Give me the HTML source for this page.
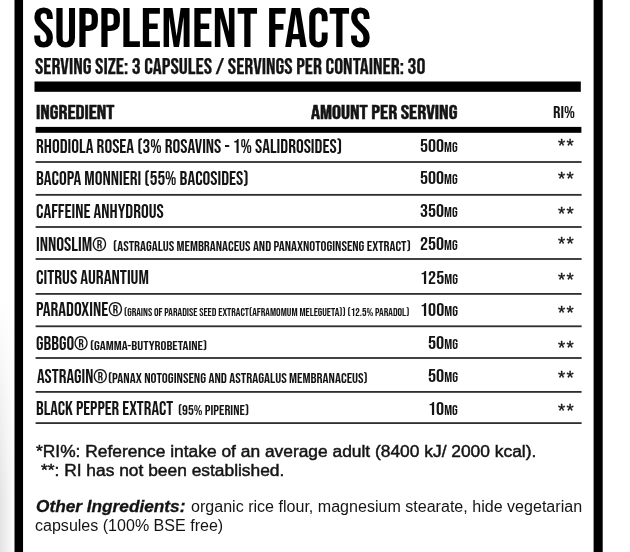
<!DOCTYPE html>
<html><head><meta charset="utf-8">
<style>
html,body{margin:0;padding:0;}
body{width:630px;height:552px;overflow:hidden;background:#fff;position:relative;color:#141414;}
.t{position:absolute;white-space:nowrap;line-height:1;transform-origin:0 0;}
.b{font-family:"Bebas Neue","Oswald","League Gothic","Liberation Sans",sans-serif;}
.a{font-family:"Liberation Sans",Arial,Helvetica,sans-serif;}
.t small{font-size:0.73em;}
</style></head>
<body>
<div style="position:absolute;left:0;top:300px;width:14.5px;height:252px;background:linear-gradient(to right,rgba(0,0,0,0.11),rgba(0,0,0,0.02) 85%,rgba(0,0,0,0));-webkit-mask-image:linear-gradient(to bottom,transparent,#000 80%);"></div>
<svg style="position:absolute;left:0;top:0" width="630" height="552" viewBox="0 0 630 552"><rect x="14.5" y="0" width="8.55" height="552" fill="#000"/><rect x="593.6" y="0" width="9.1" height="552" fill="#000"/><rect x="34.5" y="81.5" width="546.3" height="10.3" fill="#000"/><rect x="35.6" y="126.9" width="545.8" height="5.9" fill="#000"/><rect x="35.6" y="161.10" width="546" height="1.8" fill="#2e2e2e"/><rect x="35.6" y="193.95" width="546" height="1.8" fill="#2e2e2e"/><rect x="35.6" y="226.10" width="546" height="1.8" fill="#2e2e2e"/><rect x="35.6" y="258.10" width="546" height="1.8" fill="#2e2e2e"/><rect x="35.6" y="293.00" width="546" height="1.8" fill="#2e2e2e"/><rect x="35.6" y="325.40" width="546" height="1.8" fill="#2e2e2e"/><rect x="35.6" y="357.10" width="546" height="1.8" fill="#2e2e2e"/><rect x="35.6" y="391.00" width="546" height="1.8" fill="#2e2e2e"/><rect x="35.6" y="422.20" width="546" height="1.8" fill="#2e2e2e"/></svg>
<div class="t b" style="left:32.57px;top:2.80px;font-size:55.50px;transform:scaleX(1.0260);color:#000;">SUPPLEMENT FACTS</div>
<div class="t b" style="left:35.40px;top:56.98px;font-size:21.90px;transform:scaleX(1.0217);-webkit-text-stroke:0.25px #141414;">SERVING SIZE: 3 CAPSULES / SERVINGS PER CONTAINER: 30</div>
<div class="t b" style="left:35.70px;top:104.16px;font-size:19.30px;transform:scaleX(1.1529);-webkit-text-stroke:0.5px #141414;">INGREDIENT</div>
<div class="t b" style="left:310.50px;top:104.16px;font-size:19.30px;transform:scaleX(1.1627);-webkit-text-stroke:0.5px #141414;">AMOUNT PER SERVING</div>
<div class="t b" style="left:552.78px;top:104.62px;font-size:16.60px;transform:scaleX(1.1222);">RI%</div>
<div class="t b" style="left:35.99px;top:138.19px;font-size:19.20px;transform:scaleX(1.0090);">RHODIOLA ROSEA (3% ROSAVINS - 1% SALIDROSIDES)</div>
<div class="t b" style="left:35.99px;top:169.94px;font-size:19.20px;transform:scaleX(1.0077);">BACOPA MONNIERI (55% BACOSIDES)</div>
<div class="t b" style="left:35.99px;top:203.39px;font-size:19.20px;transform:scaleX(1.0080);">CAFFEINE ANHYDROUS</div>
<div class="t b" style="left:35.99px;top:236.24px;font-size:19.20px;transform:scaleX(1.0132);">INNOSLIM®</div>
<div class="t b" style="left:112.74px;top:240.40px;font-size:14.00px;transform:scaleX(1.0579);">(ASTRAGALUS MEMBRANACEUS AND PANAXNOTOGINSENG EXTRACT)</div>
<div class="t b" style="left:35.99px;top:269.24px;font-size:19.20px;transform:scaleX(1.0138);">CITRUS AURANTIUM</div>
<div class="t b" style="left:35.99px;top:300.94px;font-size:19.20px;transform:scaleX(1.0071);">PARADOXINE®</div>
<div class="t b" style="left:123.56px;top:306.50px;font-size:11.00px;transform:scaleX(1.0399);">(GRAINS OF PARADISE SEED EXTRACT(AFRAMOMUM MELEGUETA)) (12.5% PARADOL)</div>
<div class="t b" style="left:36.00px;top:335.24px;font-size:19.20px;transform:scaleX(0.9961);">GBBGO®</div>
<div class="t b" style="left:90.46px;top:340.20px;font-size:13.00px;transform:scaleX(1.1376);">(GAMMA-BUTYROBETAINE)</div>
<div class="t b" style="left:37.00px;top:368.14px;font-size:19.20px;transform:scaleX(0.9971);">ASTRAGIN®</div>
<div class="t b" style="left:108.25px;top:372.14px;font-size:14.20px;transform:scaleX(1.0522);">(PANAX NOTOGINSENG AND ASTRAGALUS MEMBRANACEUS)</div>
<div class="t b" style="left:36.01px;top:399.84px;font-size:19.20px;transform:scaleX(0.9870);">BLACK PEPPER EXTRACT</div>
<div class="t b" style="left:177.79px;top:404.56px;font-size:13.30px;transform:scaleX(1.1065);">(95% PIPERINE)</div>
<div class="t b" style="left:419.82px;top:137.62px;font-size:18.60px;transform:scaleX(1.0788);">500<small>MG</small></div>
<div class="t a" style="left:558.20px;top:136.47px;font-size:19.00px;transform:scaleX(0.9750);-webkit-text-stroke:0.35px #141414;letter-spacing:1.2px;">**</div>
<div class="t b" style="left:419.82px;top:170.42px;font-size:18.60px;transform:scaleX(1.0788);">500<small>MG</small></div>
<div class="t a" style="left:558.20px;top:169.22px;font-size:19.00px;transform:scaleX(0.9750);-webkit-text-stroke:0.35px #141414;letter-spacing:1.2px;">**</div>
<div class="t b" style="left:419.82px;top:203.22px;font-size:18.60px;transform:scaleX(1.0788);">350<small>MG</small></div>
<div class="t a" style="left:558.20px;top:203.67px;font-size:19.00px;transform:scaleX(0.9750);-webkit-text-stroke:0.35px #141414;letter-spacing:1.2px;">**</div>
<div class="t b" style="left:419.82px;top:236.22px;font-size:18.60px;transform:scaleX(1.0788);">250<small>MG</small></div>
<div class="t a" style="left:558.20px;top:233.52px;font-size:19.00px;transform:scaleX(0.9750);-webkit-text-stroke:0.35px #141414;letter-spacing:1.2px;">**</div>
<div class="t b" style="left:419.63px;top:269.92px;font-size:18.60px;transform:scaleX(1.0844);">125<small>MG</small></div>
<div class="t a" style="left:558.20px;top:269.52px;font-size:19.00px;transform:scaleX(0.9750);-webkit-text-stroke:0.35px #141414;letter-spacing:1.2px;">**</div>
<div class="t b" style="left:419.63px;top:302.42px;font-size:18.60px;transform:scaleX(1.0844);">100<small>MG</small></div>
<div class="t a" style="left:558.20px;top:303.22px;font-size:19.00px;transform:scaleX(0.9750);-webkit-text-stroke:0.35px #141414;letter-spacing:1.2px;">**</div>
<div class="t b" style="left:427.51px;top:335.42px;font-size:18.60px;transform:scaleX(1.0923);">50<small>MG</small></div>
<div class="t a" style="left:558.20px;top:337.52px;font-size:19.00px;transform:scaleX(0.9750);-webkit-text-stroke:0.35px #141414;letter-spacing:1.2px;">**</div>
<div class="t b" style="left:427.51px;top:368.12px;font-size:18.60px;transform:scaleX(1.0923);">50<small>MG</small></div>
<div class="t a" style="left:558.20px;top:368.42px;font-size:19.00px;transform:scaleX(0.9750);-webkit-text-stroke:0.35px #141414;letter-spacing:1.2px;">**</div>
<div class="t b" style="left:427.73px;top:400.82px;font-size:18.60px;transform:scaleX(1.0840);">10<small>MG</small></div>
<div class="t a" style="left:558.20px;top:401.12px;font-size:19.00px;transform:scaleX(0.9750);-webkit-text-stroke:0.35px #141414;letter-spacing:1.2px;">**</div>
<div class="t a" style="left:36.20px;top:444.06px;font-size:16.00px;transform:scaleX(1.0859);-webkit-text-stroke:0.45px #141414;">*RI%: Reference intake of an average adult (8400 kJ/ 2000 kcal).</div>
<div class="t a" style="left:41.20px;top:462.86px;font-size:16.00px;transform:scaleX(1.0857);-webkit-text-stroke:0.45px #141414;">**: RI has not been established.</div>
<div class="t a" style="left:36.12px;top:498.96px;font-size:16.00px;transform:scaleX(1.0774);-webkit-text-stroke:0.3px #141414;"><b><i>Other Ingredients:</i></b></div>
<div class="t a" style="left:190.70px;top:498.96px;font-size:16.00px;transform:scaleX(1.0039);">organic rice flour, magnesium stearate, hide vegetarian</div>
<div class="t a" style="left:35.40px;top:518.06px;font-size:16.00px;transform:scaleX(1.0027);">capsules (100% BSE free)</div>
<script>
(function(){
var t=document.createElement('span');
t.style.cssText='position:absolute;left:-9999px;top:0;font-size:40px;white-space:nowrap;font-family:monospace';
t.textContent='SUPPLEMENT FACTS 0123';
document.body.appendChild(t);
var w1=t.getBoundingClientRect().width;
t.style.fontFamily='"Bebas Neue",monospace';
var w2=t.getBoundingClientRect().width;
document.body.removeChild(t);
if(Math.abs(w1-w2)>0.5)return;
var W=[337.55, 390.29, 78.4, 146.5, 22.44, 305.73, 212.62, 128.02, 70.92, 298.33, 112.53, 86.61, 284.93, 51.8, 117.17, 70.79, 259.89, 137.19, 70.82, 37.76, 37.76, 37.76, 37.76, 37.95, 37.95, 30.58, 30.58, 30.35];
var els=document.querySelectorAll('.b');
for(var i=0;i<els.length&&i<W.length;i++){
var e=els[i];
e.style.fontFamily='"Oswald","League Gothic","Liberation Sans Narrow","DejaVu Sans Condensed","Liberation Sans",sans-serif';
e.style.fontWeight='bold';
e.style.transform='none';
var w=e.getBoundingClientRect().width;
if(w>0)e.style.transform='scaleX('+(W[i]/w).toFixed(4)+')';
}
})();
</script>
</body></html>
